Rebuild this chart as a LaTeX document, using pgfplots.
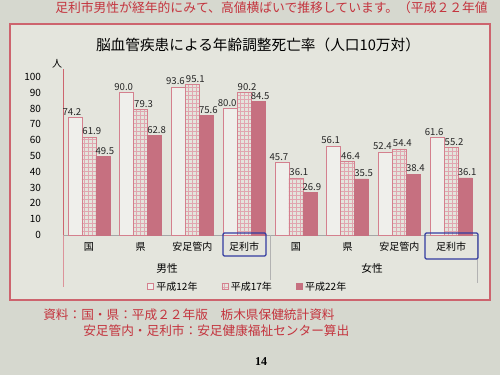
\documentclass[border=0pt]{standalone}
\usepackage{fontspec}
\setmainfont{Noto Sans CJK JP}
\newfontfamily\serifnum{Liberation Serif}
\usepackage{pgfplots}
\pgfplotsset{compat=1.18}
\usetikzlibrary{patterns}
\definecolor{bg}{RGB}{214,216,207}
\definecolor{panel}{RGB}{228,229,221}
\definecolor{barpink}{RGB}{198,112,128}
\definecolor{edgepink}{RGB}{212,128,142}
\definecolor{redtext}{RGB}{196,52,62}
\definecolor{frame}{RGB}{205,100,110}
\definecolor{pen}{RGB}{50,60,160}
\begin{document}
\begin{tikzpicture}[x=0.75pt,y=0.75pt]
\fill[bg] (0,0) rectangle (500,375);
\path[use as bounding box] (0,0) rectangle (500,375);
\begin{scope}
\clip (0,0) rectangle (500,375);
\node[anchor=west, text=redtext, font=\fontsize{9.6}{10}\selectfont, inner sep=0] at (55,367) {足利市男性が経年的にみて、高値横ばいで推移しています。（平成２２年値};
\end{scope}
\filldraw[fill=panel, draw=frame, line width=0.8pt] (10,351) rectangle (490,75);
\node[font=\fontsize{11}{12}\selectfont] at (258,330) {脳血管疾患による年齢調整死亡率（人口10万対）};
\node[font=\fontsize{7.5}{8}\selectfont] at (57,311) {人};
\begin{axis}[
  at={(47.25pt,105pt)}, anchor=south west,
  scale only axis, width=310.5pt, height=124.5pt,
  xmin=-0.5, xmax=7.5, ymin=0, ymax=105,
  ybar=0pt, bar width=0.27,
  axis x line*=bottom, axis y line*=left,
  axis line style={-},
  x axis line style={draw=gray!70},
  y axis line style={draw=frame},
  ytick={0,10,...,100},
  major tick length=0pt,
  yticklabel style={font=\fontsize{7.5}{8}\selectfont, xshift=-13pt},
  xtick={0,...,7},
  xticklabels={国,県,安足管内,足利市,国,県,安足管内,足利市},
  xticklabel style={font=\fontsize{7.5}{8}\selectfont, yshift=-2pt},
  /pgf/number format/assume math mode=true,
  nodes near coords={\pgfmathprintnumber[fixed,fixed zerofill,precision=1]{\pgfplotspointmeta}},
  every node near coord/.append style={font=\fontsize{7.2}{8}\selectfont, text=black!85, fill=none, draw=none, inner sep=1.5pt},
  legend style={at={(0.447,-0.313)}, anchor=center, draw=none, fill=none,
    legend columns=3, font=\fontsize{7.5}{8}\selectfont,
    /tikz/every even column/.append style={column sep=16pt}},
  legend image code/.code={\draw[#1] (0cm,-0.07cm) rectangle (0.16cm,0.09cm);},
  clip=false,
]
\addplot[draw=edgepink, fill=white!40!panel, every node near coord/.append style={xshift=-2.2pt}] coordinates {(0,74.2) (1,90.0) (2,93.6) (3,80.0) (4,45.7) (5,56.1) (6,52.4) (7,61.6)};
\addplot[draw=edgepink, pattern=grid, pattern color=edgepink!70, every node near coord/.append style={xshift=2.2pt}] coordinates {(0,61.9) (1,79.3) (2,95.1) (3,90.2) (4,36.1) (5,46.4) (6,54.4) (7,55.2)};
\addplot[draw=barpink, fill=barpink, every node near coord/.append style={xshift=1.5pt}] coordinates {(0,49.5) (1,62.8) (2,75.6) (3,84.5) (4,26.9) (5,35.5) (6,38.4) (7,36.1)};
\legend{平成12年,平成17年,平成22年}
\end{axis}
\draw[frame!70] (63,140) -- (63,88);
\draw[gray!60] (270,140) -- (270,95);
\draw[gray!60] (477,140) -- (477,92);
\node[font=\fontsize{8}{9}\selectfont] at (167,107) {男性};
\node[font=\fontsize{8}{9}\selectfont] at (372,107) {女性};
\draw[pen, line width=0.9pt, rounded corners=1pt] (223,142) rectangle (266,119);
\draw[pen, line width=0.9pt, rounded corners=1pt] (425,142) rectangle (478,116);
\node[anchor=west, text=redtext, font=\fontsize{9.5}{10}\selectfont, inner sep=0] at (43,60) {資料：国・県：平成２２年版　栃木県保健統計資料};
\node[anchor=west, text=redtext, font=\fontsize{9.5}{10}\selectfont, inner sep=0] at (83,44) {安足管内・足利市：安足健康福祉センター算出};
\node[font=\serifnum\bfseries\fontsize{9}{10}\selectfont] at (261,13) {14};
\end{tikzpicture}
\end{document}
